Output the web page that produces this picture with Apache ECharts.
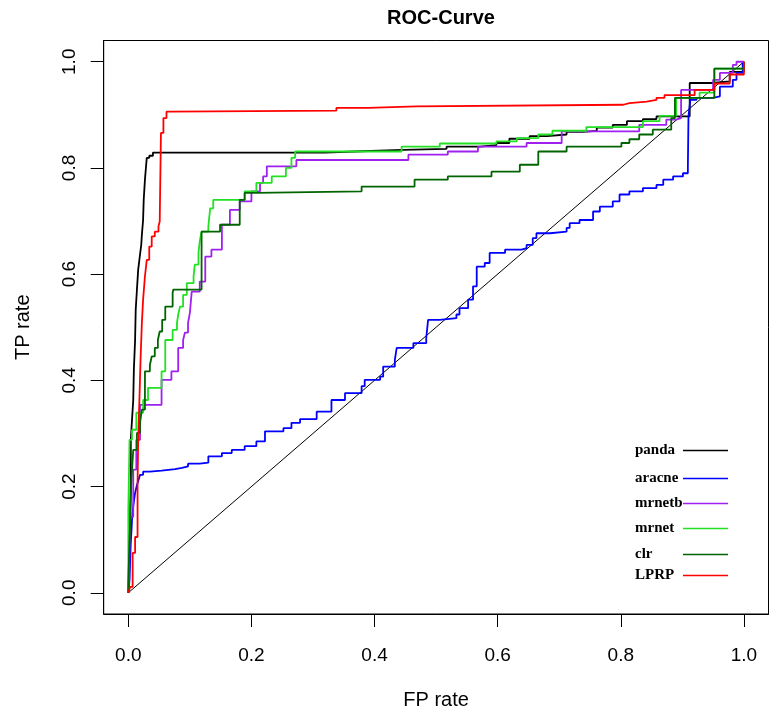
<!DOCTYPE html>
<html>
<head>
<meta charset="utf-8">
<script src="https://cdn.jsdelivr.net/npm/echarts@6/dist/echarts.min.js"></script>
<style>
html,body{margin:0;padding:0;background:#fff;}
#chart{width:774px;height:718px;}
</style>
</head>
<body>
<div id="chart"></div>
<script>
// ---- data (FP rate, TP rate) ----
const seriesNames = ['panda', 'aracne', 'mrnetb', 'mrnet', 'clr', 'LPRP'];
const seriesColors = ['#000000', '#0000ff', '#a020f0', '#22e022', '#006400', '#ff0000'];

const pandaFP = [0,0.001,0.003,0.004,0.004,0.006,0.008,0.009,0.011,0.012,0.014,0.016,0.019,0.021,0.022,0.024,0.025,0.027,0.029,0.030,0.034,0.040,0.318,0.368,0.446,0.517,0.571,0.598,0.619,0.652,0.680,0.712,0.738,0.761,0.787,0.810,0.836,0.858,0.912,0.912,0.949,0.977,1];
const pandaTP = [0,0.062,0.137,0.213,0.288,0.326,0.363,0.420,0.476,0.533,0.571,0.608,0.637,0.655,0.674,0.702,0.740,0.778,0.806,0.819,0.823,0.829,0.831,0.834,0.836,0.840,0.843,0.847,0.855,0.860,0.863,0.868,0.870,0.876,0.881,0.888,0.892,0.897,0.899,0.960,0.963,0.981,1];

const aracneFP = [0,0.002,0.003,0.004,0.006,0.008,0.011,0.014,0.016,0.019,0.024,0.035,0.054,0.076,0.087,0.097,0.116,0.130,0.152,0.168,0.189,0.208,0.222,0.252,0.265,0.279,0.306,0.330,0.352,0.379,0.384,0.409,0.414,0.433,0.436,0.463,0.484,0.487,0.506,0.533,0.538,0.552,0.560,0.566,0.579,0.587,0.612,0.639,0.647,0.657,0.663,0.685,0.712,0.717,0.733,0.755,0.766,0.787,0.798,0.814,0.836,0.858,0.869,0.885,0.901,0.909,0.910,0.913,0.923,0.950,0.961,0.982,0.988,0.998,1];
const aracneTP = [0,0.024,0.062,0.094,0.137,0.163,0.188,0.203,0.210,0.222,0.228,0.230,0.233,0.235,0.238,0.243,0.245,0.257,0.263,0.269,0.276,0.285,0.304,0.310,0.320,0.327,0.341,0.363,0.376,0.389,0.401,0.407,0.426,0.439,0.461,0.470,0.480,0.514,0.517,0.524,0.536,0.552,0.577,0.614,0.621,0.640,0.646,0.649,0.655,0.668,0.677,0.680,0.687,0.696,0.702,0.718,0.727,0.737,0.750,0.756,0.762,0.768,0.778,0.784,0.790,0.800,0.897,0.928,0.932,0.935,0.953,0.966,0.979,0.998,1];

const mrnetbFP = [0,0,0.001,0.003,0.008,0.013,0.019,0.054,0.070,0.081,0.089,0.092,0.097,0.100,0.103,0.116,0.125,0.135,0.152,0.165,0.181,0.200,0.214,0.219,0.225,0.273,0.455,0.519,0.568,0.647,0.704,0.830,0.874,0.890,0.898,0.950,0.961,0.982,0.988,1];
const mrnetbTP = [0,0.011,0.030,0.143,0.232,0.288,0.354,0.401,0.417,0.461,0.476,0.490,0.508,0.527,0.567,0.586,0.633,0.646,0.693,0.721,0.737,0.756,0.772,0.784,0.803,0.815,0.825,0.831,0.840,0.847,0.869,0.881,0.891,0.894,0.947,0.966,0.979,0.994,1,1];

const mrnetFP = [0,0,0.002,0.006,0.013,0.024,0.032,0.054,0.060,0.072,0.079,0.081,0.084,0.089,0.095,0.106,0.108,0.114,0.116,0.119,0.130,0.133,0.138,0.189,0.208,0.233,0.256,0.265,0.271,0.444,0.506,0.598,0.631,0.666,0.689,0.744,0.836,0.863,0.890,0.928,0.952,1];
const mrnetTP = [0,0.156,0.288,0.307,0.339,0.363,0.386,0.417,0.476,0.495,0.508,0.524,0.539,0.561,0.583,0.596,0.618,0.640,0.662,0.680,0.690,0.724,0.740,0.756,0.772,0.784,0.800,0.819,0.831,0.840,0.846,0.850,0.856,0.863,0.870,0.877,0.888,0.898,0.932,0.942,0.987,1];

const clrFP = [0,0.001,0.003,0.005,0.008,0.014,0.019,0.022,0.027,0.035,0.038,0.043,0.048,0.051,0.055,0.060,0.072,0.073,0.119,0.149,0.181,0.189,0.208,0.379,0.465,0.519,0.590,0.636,0.666,0.712,0.801,0.814,0.830,0.852,0.882,0.888,0.952,1];
const clrTP = [0,0.062,0.137,0.213,0.269,0.301,0.320,0.345,0.417,0.429,0.445,0.461,0.476,0.492,0.514,0.539,0.565,0.571,0.680,0.693,0.740,0.753,0.756,0.765,0.778,0.784,0.793,0.806,0.831,0.840,0.847,0.854,0.863,0.872,0.894,0.932,0.987,1];

const lprpFP = [0,0.003,0.007,0.011,0.015,0.016,0.018,0.020,0.022,0.024,0.027,0.030,0.034,0.038,0.043,0.049,0.051,0.053,0.057,0.062,0.068,0.338,0.390,0.468,0.804,0.814,0.842,0.858,0.871,0.920,0.952,0.977,1];
const lprpTP = [0,0.011,0.075,0.105,0.207,0.288,0.363,0.444,0.508,0.552,0.596,0.627,0.652,0.671,0.680,0.690,0.699,0.866,0.894,0.906,0.908,0.913,0.916,0.919,0.922,0.925,0.928,0.932,0.937,0.947,0.959,0.976,1];

const diagFP = [0, 1];
const diagTP = [0, 1];

const tickValues = [0, 0.2, 0.4, 0.6, 0.8, 1.0];

// ---- build ----
function pairs(xs, ys) { return xs.map((x, i) => [x, ys[i]]); }
const curves = [
  pairs(pandaFP, pandaTP), pairs(aracneFP, aracneTP), pairs(mrnetbFP, mrnetbTP),
  pairs(mrnetFP, mrnetTP), pairs(clrFP, clrTP), pairs(lprpFP, lprpTP)
];

const legendTops = [443, 471, 496, 521, 547, 568];
const legends = seriesNames.map((n, i) => ({
  data: [n],
  left: 635,
  top: legendTops[i],
  padding: 0,
  align: 'right',
  icon: 'rect',
  itemWidth: 45,
  itemHeight: 1.5,
  itemGap: 0,
  selectedMode: false,
  formatter: name => '{t|' + name + '}',
  textStyle: {
    color: '#000',
    rich: { t: { width: 43, align: 'left', fontFamily: 'Liberation Serif', fontWeight: 'bold', fontSize: 15, color: '#000' } }
  }
}));

const series = [{
  name: 'random', type: 'line', data: pairs(diagFP, diagTP), showSymbol: false, symbol: 'none',
  lineStyle: { color: '#000', width: 1 }, silent: true, z: 1
}].concat(seriesNames.map((n, i) => ({
  name: n, type: 'line', data: curves[i], step: 'end', showSymbol: false, symbol: 'none',
  color: seriesColors[i],
  lineStyle: { color: seriesColors[i], width: 1.8 }, z: 2 + i
})));

const axisFont = { fontFamily: 'Liberation Sans', fontSize: 19, color: '#000' };

const option = {
  backgroundColor: '#fff',
  animation: false,
  title: {
    text: 'ROC-Curve', left: 436, top: 3, textAlign: 'center',
    textStyle: { fontFamily: 'Liberation Sans', fontWeight: 'bold', fontSize: 20, color: '#000' }
  },
  legend: legends,
  grid: { left: 103.7, right: 5.5, top: 40.5, bottom: 104, show: true, borderColor: '#000', borderWidth: 1, backgroundColor: '#fff' },
  xAxis: {
    type: 'value', min: -0.04, max: 1.04,
    name: 'FP rate', nameLocation: 'middle', nameGap: 76,
    nameTextStyle: { fontFamily: 'Liberation Sans', fontSize: 20, color: '#000' },
    axisLine: { show: true, onZero: false, lineStyle: { color: '#000', width: 1 } },
    axisTick: { show: true, inside: false, length: 13, customValues: tickValues, lineStyle: { color: '#000', width: 1 } },
    axisLabel: Object.assign({ margin: 32, customValues: tickValues, formatter: v => v.toFixed(1) }, axisFont),
    splitLine: { show: false }
  },
  yAxis: {
    type: 'value', min: -0.04, max: 1.04,
    name: 'TP rate', nameLocation: 'middle', nameGap: 70, nameRotate: 90,
    nameTextStyle: { fontFamily: 'Liberation Sans', fontSize: 20, color: '#000' },
    axisLine: { show: true, onZero: false, lineStyle: { color: '#000', width: 1 } },
    axisTick: { show: true, inside: false, length: 13, customValues: tickValues, lineStyle: { color: '#000', width: 1 } },
    axisLabel: Object.assign({ margin: 24, rotate: 90, customValues: tickValues, formatter: v => v.toFixed(1) }, axisFont),
    splitLine: { show: false }
  },
  series: series
};

const chart = echarts.init(document.getElementById('chart'), null, { renderer: 'canvas' });
chart.setOption(option);
</script>
</body>
</html>
